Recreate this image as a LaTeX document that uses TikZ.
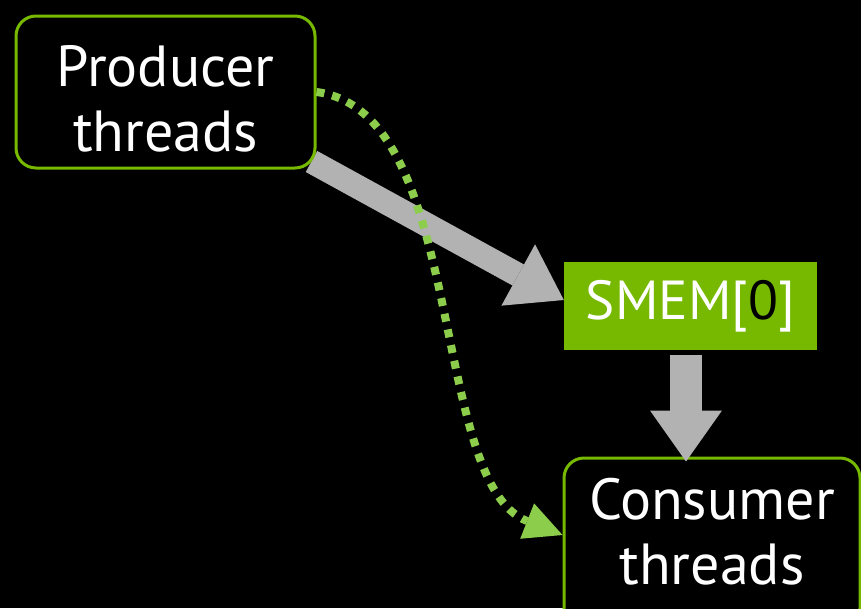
\documentclass[tikz,border=0pt]{standalone}
\usepackage{fontspec}
\setmainfont{PT Sans}
\usetikzlibrary{arrows.meta,backgrounds}
\definecolor{nvgreen}{RGB}{118,185,0}
\definecolor{dotgreen}{RGB}{140,205,75}
\definecolor{arrowgray}{RGB}{178,178,178}
\begin{document}
\begin{tikzpicture}[x=1pt,y=-1pt,
  thread/.style={draw=nvgreen, line width=3pt, rounded corners=20pt, fill=black,
    text=white, align=center, font=\fontsize{58}{65}\selectfont, inner sep=0pt},
  smembox/.style={fill=nvgreen, text=white, inner sep=0pt,
    font=\fontsize{55}{65}\selectfont},
  bigarrow/.style={draw=arrowgray, line width=#1},
  dotarrow/.style={draw=dotgreen, line width=8pt, dash pattern=on 8pt off 8pt,
    -{Triangle[length=38pt,width=38pt,line width=0pt]}}]
\useasboundingbox (0,0) rectangle (861,608);
\node[thread, minimum width=299pt, minimum height=152pt] (prod) at (165.5,92) {\rule{0pt}{54pt}Producer\\threads};
\node[smembox, minimum width=253pt, minimum height=88pt] (smem) at (690.5,306) {SMEM[\textcolor{black}{0}]};
\node[thread, minimum width=296pt, minimum height=170pt] (cons) at (712,543) {Consumer\\threads\rule[-24pt]{0pt}{1pt}};
\begin{scope}[on background layer]
  \fill[black] (0,0) rectangle (861,608);
  \draw[bigarrow=24pt, -{Triangle[length=52pt,width=70pt,line width=0pt]}]
    ([xshift=-5pt,yshift=8pt]prod.south east) -- ([yshift=6pt]smem.west);
\end{scope}
\draw[bigarrow=32pt, -{Triangle[length=51pt,width=72pt,line width=0pt]}]
  ([xshift=-4.5pt,yshift=-5pt]smem.south) -- ([xshift=-26pt,yshift=-5pt]cons.north);
\draw[dotarrow] (prod.east) .. controls (468,112) and (428,482) .. ([yshift=8pt]cons.west);
\end{tikzpicture}
\end{document}
